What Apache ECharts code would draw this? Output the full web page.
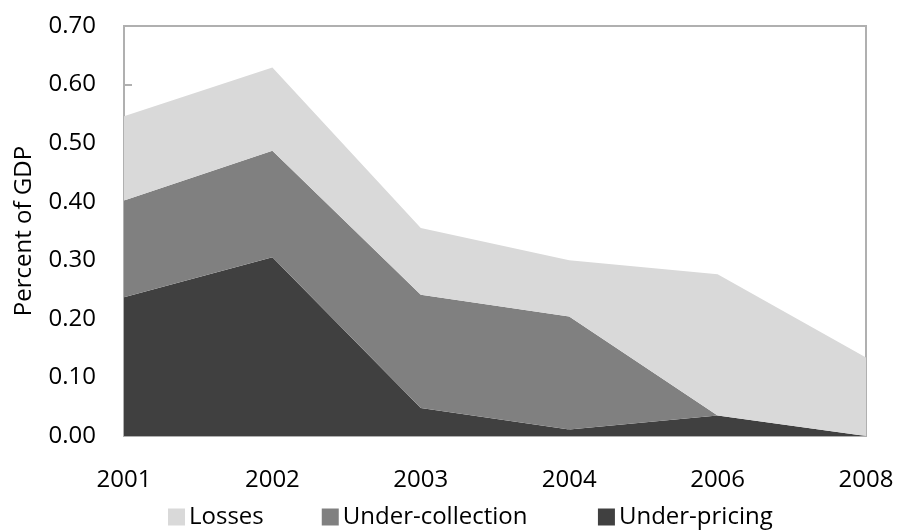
<!DOCTYPE html>
<html>
<head>
<meta charset="utf-8">
<script src="https://cdn.jsdelivr.net/npm/echarts@6/dist/echarts.min.js"></script>
<style>html,body{margin:0;padding:0;background:#fff}#c{width:897px;height:531px}</style>
</head>
<body>
<div id="c"></div>
<script>
const categories = ['2001', '2002', '2003', '2004', '2006', '2008'];
const underPricing = [0.237, 0.305, 0.048, 0.011, 0.035, 0.0];
const underCollection = [0.165, 0.182, 0.193, 0.193, 0.0, 0.0];
const losses = [0.144, 0.142, 0.114, 0.096, 0.241, 0.134];
const yTicks = { min: 0, max: 0.7, interval: 0.1 };

const FONT = '"Open Sans", "Noto Sans", sans-serif';
const axisGray = '#b0b0b0';
const chart = echarts.init(document.getElementById('c'), null, { renderer: 'canvas' });
function areaSeries(name, data, color) {
  return {
    name: name, type: 'line', stack: 'total', data: data,
    symbol: 'none', lineStyle: { width: 0 },
    areaStyle: { color: color, opacity: 1 },
    itemStyle: { color: color }, silent: true
  };
}
chart.setOption({
  animation: false,
  textStyle: { fontFamily: FONT },
  grid: { left: 124, right: 31, top: 26, bottom: 95, show: true, borderColor: axisGray, borderWidth: 2, backgroundColor: 'transparent' },
  legend: {
    data: ['Losses', 'Under-collection', 'Under-pricing'],
    formatter: n => n === 'Under-collection' ? n + '  ' : n,
    left: 163, top: 500, icon: 'rect', itemWidth: 17, itemHeight: 17, itemGap: 58,
    textStyle: { fontFamily: FONT, fontSize: 24, color: '#000', padding: [0, 0, 0, -1] }
  },
  xAxis: {
    type: 'category', data: categories, boundaryGap: false,
    axisLine: { lineStyle: { color: axisGray, width: 2 } },
    axisTick: { inside: true, length: 8, lineStyle: { color: axisGray, width: 2 } },
    axisLabel: { fontFamily: FONT, fontSize: 24, color: '#000', margin: 32 },
    splitLine: { show: false }
  },
  yAxis: {
    type: 'value', min: yTicks.min, max: yTicks.max, interval: yTicks.interval,
    name: 'Percent of GDP', nameLocation: 'middle', nameGap: 88, nameRotate: 90,
    nameTextStyle: { fontFamily: FONT, fontSize: 24, color: '#000' },
    axisLine: { show: true, lineStyle: { color: axisGray, width: 2 } },
    axisTick: { show: true, inside: true, length: 8, lineStyle: { color: axisGray, width: 2 } },
    axisLabel: { fontFamily: FONT, fontSize: 24, color: '#000', margin: 28, formatter: v => v.toFixed(2) },
    splitLine: { show: false }
  },
  series: [
    areaSeries('Under-pricing', underPricing, '#404040'),
    areaSeries('Under-collection', underCollection, '#808080'),
    areaSeries('Losses', losses, '#d9d9d9')
  ]
});
</script>
</body>
</html>
